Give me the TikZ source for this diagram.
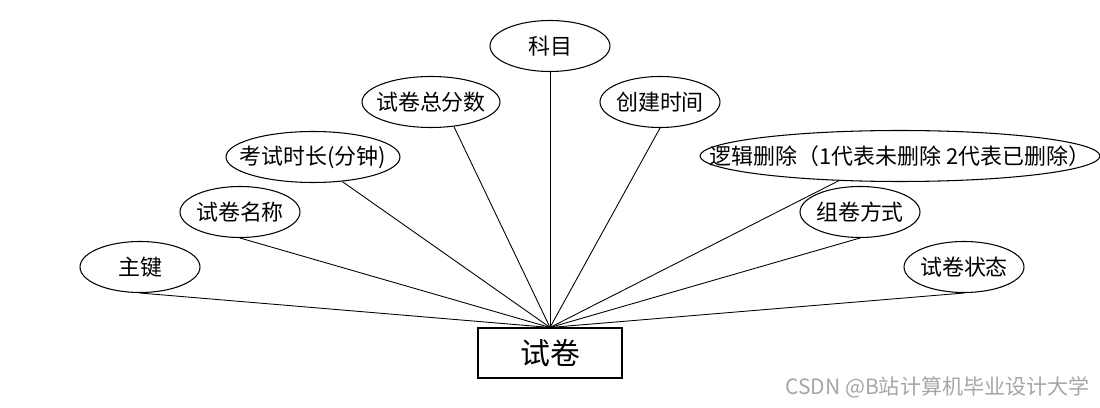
\documentclass[tikz,border=0pt]{standalone}
\usepackage{fontspec}
\usepackage{tikz}
\usetikzlibrary{shapes.geometric,positioning}
\newfontfamily\cjkfont{Noto Sans CJK SC}
% label kept out of the ellipse size
\newcommand{\attrlabel}[1]{\makebox[0pt]{#1}}
\tikzset{
  attrellipse/.style={draw=black,ellipse,line width=0.6pt,inner sep=0pt,
    minimum width=2.4cm,minimum height=1.02cm,font=\cjkfont\fontsize{12.5}{14}\selectfont},
  entitybox/.style={draw=black,rectangle,line width=0.6pt,inner sep=0pt,
    minimum width=2.88cm,minimum height=1.0cm,font=\cjkfont\fontsize{17}{20}\selectfont},
  attrlink/.style={draw=black,line width=0.5pt},
  watermark/.style={text=black!35,font=\cjkfont\fontsize{12}{14}\selectfont,anchor=east}
}
\begin{document}
\begin{tikzpicture}[x=0.02cm,y=-0.02cm]
  \useasboundingbox (0,0) rectangle (1100,408);
  % entity
  \node[entitybox] (paper) at (550,353) {试卷};
  % attributes
  \node[attrellipse] (zj) at (140,267) {\attrlabel{主键}};
  \node[attrellipse] (mc) at (240,212) {\attrlabel{试卷名称}};
  \node[attrellipse,minimum width=3.48cm] (sc) at (313,157) {\attrlabel{考试时长(分钟)}};
  \node[attrellipse,minimum width=2.76cm] (zf) at (431,102) {\attrlabel{试卷总分数}};
  \node[attrellipse] (km) at (550,46) {\attrlabel{科目}};
  \node[attrellipse] (cj) at (660,102) {\attrlabel{创建时间}};
  \node[attrellipse,minimum width=8cm] (sc2) at (900,156)
    {\attrlabel{逻辑删除（1代表未删除 2代表已删除）}};
  \node[attrellipse] (zjfs) at (860,212) {\attrlabel{组卷方式}};
  \node[attrellipse] (zt) at (964,267) {\attrlabel{试卷状态}};
  % links
  \draw[attrlink] (paper.north) -- (zj.south);
  \draw[attrlink] (paper.north) -- (mc.south);
  \draw[attrlink] (paper.north) -- (sc.-40);
  \draw[attrlink] (paper.north) -- (zf.-47);
  \draw[attrlink] (paper.north) -- (km.south);
  \draw[attrlink] (paper.north) -- (cj.south);
  \draw[attrlink] (paper.north) -- (sc2.-158);
  \draw[attrlink] (paper.north) -- (zjfs.south);
  \draw[attrlink] (paper.north) -- (zt.south);
  \node[watermark] (wm) at (1096,387) {CSDN @B站计算机毕业设计大学};
\end{tikzpicture}
\end{document}
